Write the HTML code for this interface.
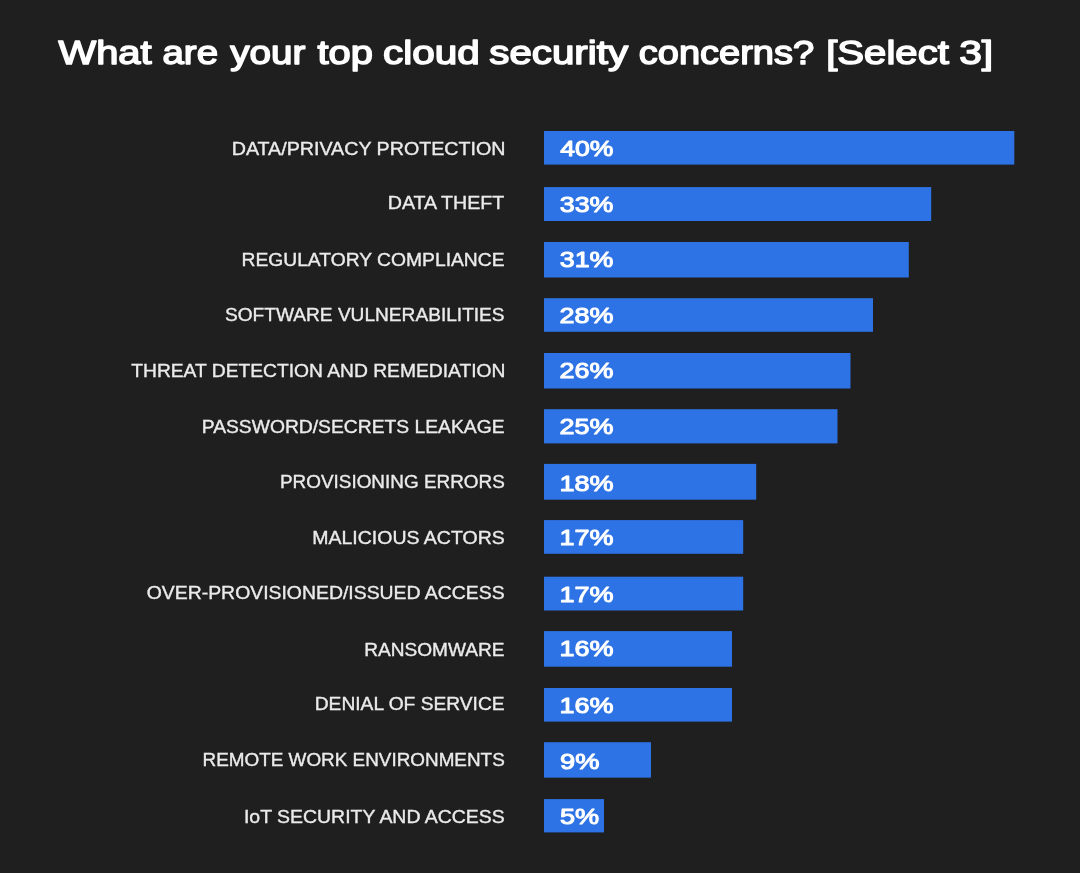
<!DOCTYPE html>
<html lang="en"><head><meta charset="utf-8"><title>What are your top cloud security concerns?</title>
<style>
html,body{margin:0;padding:0;background:#1f1f1f;}
body{width:1080px;height:873px;overflow:hidden;}
svg{display:block;}
.t{font-family:"Liberation Sans",Arial,sans-serif;font-weight:normal;fill:#ffffff;stroke:#ffffff;stroke-width:1.5;stroke-linejoin:round;}
.l{font-family:"Liberation Sans",Arial,sans-serif;font-weight:normal;fill:#ebebeb;stroke:#ebebeb;stroke-width:0.35;}
.p{font-family:"Liberation Sans",Arial,sans-serif;font-weight:normal;fill:#ffffff;stroke:#ffffff;stroke-width:1.0;stroke-linejoin:round;}
.b{fill:#2e73e5;}
</style></head><body>
<svg width="1080" height="873" viewBox="0 0 1080 873">
<rect x="0" y="0" width="1080" height="873" fill="#1f1f1f"/>
<text class="t" font-size="33.5" y="63.5">
<tspan x="58.49" textLength="93.16" lengthAdjust="spacingAndGlyphs">What</tspan> 
<tspan x="162.48" textLength="55.63" lengthAdjust="spacingAndGlyphs">are</tspan> 
<tspan x="230.24" textLength="75.13" lengthAdjust="spacingAndGlyphs">your</tspan> 
<tspan x="317.50" textLength="55.44" lengthAdjust="spacingAndGlyphs">top</tspan> 
<tspan x="382.98" textLength="96.79" lengthAdjust="spacingAndGlyphs">cloud</tspan> 
<tspan x="489.25" textLength="138.82" lengthAdjust="spacingAndGlyphs">security</tspan> 
<tspan x="638.75" textLength="175.37" lengthAdjust="spacingAndGlyphs">concerns?</tspan> 
<tspan x="826.23" textLength="122.63" lengthAdjust="spacingAndGlyphs">[Select</tspan> 
<tspan x="959.19" textLength="33.94" lengthAdjust="spacingAndGlyphs">3]</tspan> 
</text>
<rect class="b" x="544" y="131" width="470.3" height="33.6"/>
<rect class="b" x="544" y="187.1" width="387.2" height="33.9"/>
<rect class="b" x="544" y="242" width="364.8" height="35.5"/>
<rect class="b" x="544" y="298.2" width="329" height="33.6"/>
<rect class="b" x="544" y="353" width="306.5" height="35.5"/>
<rect class="b" x="544" y="409.2" width="293.5" height="34.2"/>
<rect class="b" x="544" y="463.9" width="212.2" height="35.8"/>
<rect class="b" x="544" y="520.1" width="199.2" height="33.7"/>
<rect class="b" x="544" y="576.7" width="199.2" height="33.8"/>
<rect class="b" x="544" y="631.1" width="188" height="35.6"/>
<rect class="b" x="544" y="688" width="188" height="33.6"/>
<rect class="b" x="544" y="742.2" width="107" height="35.45"/>
<rect class="b" x="544" y="799.1" width="60" height="33.3"/>
<text class="l" font-size="17.45" x="231.73" y="154.95" textLength="273.73" lengthAdjust="spacingAndGlyphs">DATA/PRIVACY PROTECTION</text>
<text class="l" font-size="17.45" x="387.73" y="209.40" textLength="116.60" lengthAdjust="spacingAndGlyphs">DATA THEFT</text>
<text class="l" font-size="17.45" x="241.49" y="265.95" textLength="263.06" lengthAdjust="spacingAndGlyphs">REGULATORY COMPLIANCE</text>
<text class="l" font-size="17.45" x="225.00" y="320.55" textLength="279.61" lengthAdjust="spacingAndGlyphs">SOFTWARE VULNERABILITIES</text>
<text class="l" font-size="17.45" x="131.25" y="376.95" textLength="374.09" lengthAdjust="spacingAndGlyphs">THREAT DETECTION AND REMEDIATION</text>
<text class="l" font-size="17.45" x="201.74" y="433.35" textLength="302.80" lengthAdjust="spacingAndGlyphs">PASSWORD/SECRETS LEAKAGE</text>
<text class="l" font-size="17.45" x="279.99" y="488.00" textLength="224.78" lengthAdjust="spacingAndGlyphs">PROVISIONING ERRORS</text>
<text class="l" font-size="17.45" x="312.23" y="544.30" textLength="192.53" lengthAdjust="spacingAndGlyphs">MALICIOUS ACTORS</text>
<text class="l" font-size="17.45" x="146.75" y="599.20" textLength="357.86" lengthAdjust="spacingAndGlyphs">OVER-PROVISIONED/ISSUED ACCESS</text>
<text class="l" font-size="17.45" x="364.23" y="655.50" textLength="140.32" lengthAdjust="spacingAndGlyphs">RANSOMWARE</text>
<text class="l" font-size="17.45" x="314.74" y="710.00" textLength="189.81" lengthAdjust="spacingAndGlyphs">DENIAL OF SERVICE</text>
<text class="l" font-size="17.45" x="202.49" y="766.30" textLength="302.28" lengthAdjust="spacingAndGlyphs">REMOTE WORK ENVIRONMENTS</text>
<text class="l" font-size="17.45" x="243.98" y="823.00" textLength="260.76" lengthAdjust="spacingAndGlyphs">IoT SECURITY AND ACCESS</text>
<text class="p" font-size="22.3" x="560.25" y="155.55" textLength="53.23" lengthAdjust="spacingAndGlyphs">40%</text>
<text class="p" font-size="22.3" x="559.74" y="212.30" textLength="53.69" lengthAdjust="spacingAndGlyphs">33%</text>
<text class="p" font-size="22.3" x="559.74" y="266.60" textLength="53.69" lengthAdjust="spacingAndGlyphs">31%</text>
<text class="p" font-size="22.3" x="559.49" y="323.10" textLength="53.92" lengthAdjust="spacingAndGlyphs">28%</text>
<text class="p" font-size="22.3" x="559.49" y="377.75" textLength="53.92" lengthAdjust="spacingAndGlyphs">26%</text>
<text class="p" font-size="22.3" x="559.49" y="434.40" textLength="53.92" lengthAdjust="spacingAndGlyphs">25%</text>
<text class="p" font-size="22.3" x="559.45" y="490.70" textLength="54.11" lengthAdjust="spacingAndGlyphs">18%</text>
<text class="p" font-size="22.3" x="559.45" y="545.20" textLength="54.11" lengthAdjust="spacingAndGlyphs">17%</text>
<text class="p" font-size="22.3" x="559.45" y="601.80" textLength="54.11" lengthAdjust="spacingAndGlyphs">17%</text>
<text class="p" font-size="22.3" x="559.45" y="656.35" textLength="54.11" lengthAdjust="spacingAndGlyphs">16%</text>
<text class="p" font-size="22.3" x="559.45" y="712.70" textLength="54.11" lengthAdjust="spacingAndGlyphs">16%</text>
<text class="p" font-size="22.3" x="559.98" y="769.25" textLength="39.42" lengthAdjust="spacingAndGlyphs">9%</text>
<text class="p" font-size="22.3" x="559.99" y="823.65" textLength="39.18" lengthAdjust="spacingAndGlyphs">5%</text>
</svg>
</body></html>
